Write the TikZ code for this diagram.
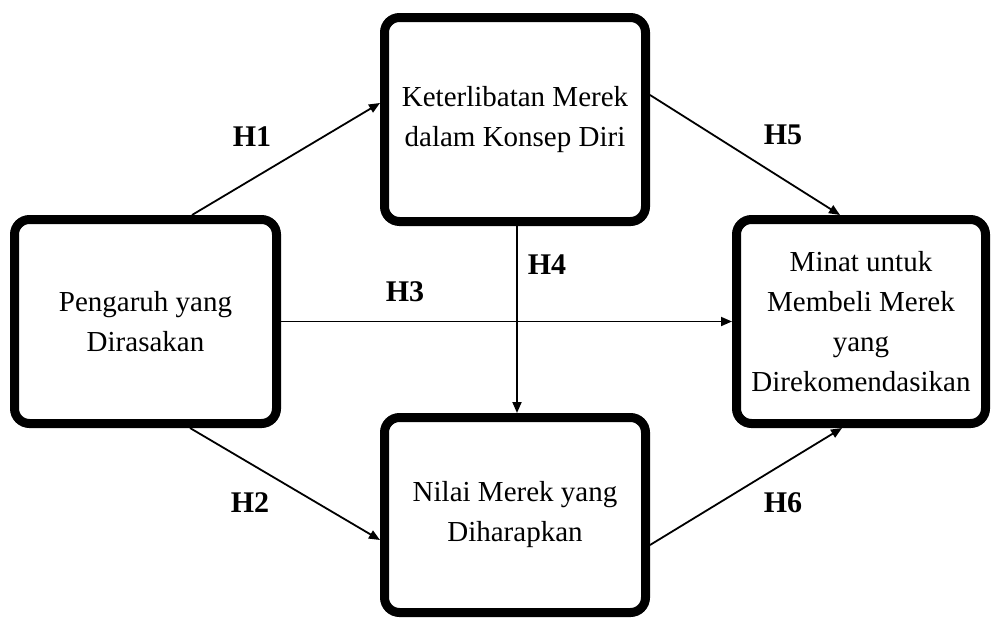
\documentclass[tikz,border=0pt]{standalone}
\usepackage{fontspec}
\setmainfont{Liberation Serif}
\usetikzlibrary{arrows.meta}

\tikzset{
  construct/.style={draw=black, line width=4.5pt, rounded corners=7.5pt,
    fill=white, align=center, font=\fontsize{14.5}{20}\selectfont,
    inner sep=0pt},
  path arrow/.style={draw=black, line width=0.9pt,
    -{Triangle[length=5.5pt,width=4.5pt]}},
  hyp/.style={font=\fontsize{15}{18}\selectfont\bfseries, inner sep=0pt}
}

\begin{document}
\begin{tikzpicture}[x=0.5pt,y=-0.5pt]
  \useasboundingbox (0,0) rectangle (995,621);

  % the four constructs
  \node[construct, minimum width=131pt, minimum height=102pt]
    (PY) at (145.5,321.5) {Pengaruh yang\\Dirasakan};
  \node[construct, minimum width=130.5pt, minimum height=102pt]
    (KM) at (515,119.5) {Keterlibatan Merek\\dalam Konsep Diri};
  \node[construct, minimum width=130.5pt, minimum height=97.5pt]
    (NM) at (515,515) {Nilai Merek yang\\Diharapkan};
  \node[construct, minimum width=124.5pt, minimum height=102pt]
    (MB) at (861,321.5) {Minat untuk\\Membeli Merek\\yang\\Direkomendasikan};

  % hypothesised paths
  \draw[path arrow] ([xshift=23.25pt]PY.north) -- ([yshift=8.25pt]KM.west);
  \draw[path arrow] ([xshift=22.25pt]PY.south) -- ([yshift=-12.5pt]NM.west);
  \draw[path arrow] (PY.east) -- (MB.west);
  \draw[path arrow] ([xshift=1pt]KM.south) -- ([xshift=1pt]NM.north);
  \draw[path arrow] ([yshift=12.25pt]KM.east) -- ([xshift=-10.5pt]MB.north);
  \draw[path arrow] ([yshift=-15pt]NM.east) -- ([xshift=-9.5pt]MB.south);

  % path labels
  \node[hyp] (h1) at (252,137) {H1};
  \node[hyp] (h2) at (250,503) {H2};
  \node[hyp] (h3) at (405,292) {H3};
  \node[hyp] (h4) at (547,265) {H4};
  \node[hyp] (h5) at (783,135) {H5};
  \node[hyp] (h6) at (783,503) {H6};
\end{tikzpicture}
\end{document}
